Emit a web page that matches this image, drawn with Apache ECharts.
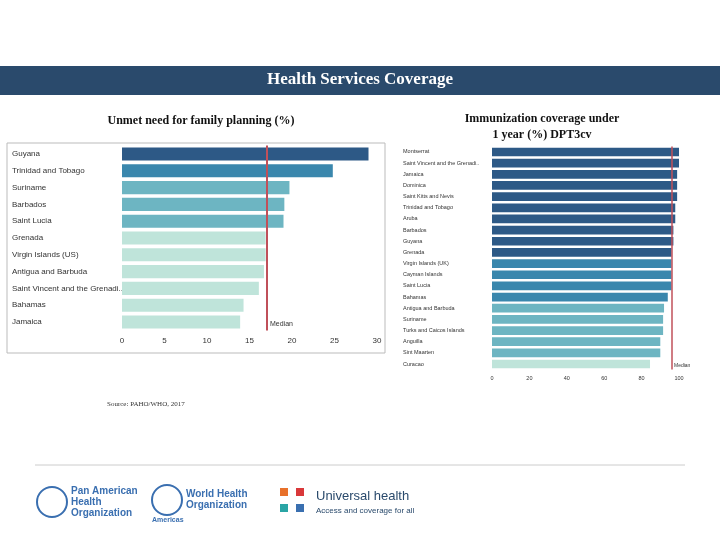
<!DOCTYPE html>
<html><head><meta charset="utf-8">
<script src="https://cdn.jsdelivr.net/npm/echarts@6/dist/echarts.min.js"></script>
<style>html,body{margin:0;padding:0;background:#fff}#c{width:720px;height:540px}</style>
</head><body><div id="c"></div>
<script>
const fpCountries=["Guyana","Trinidad and Tobago","Suriname","Barbados","Saint Lucia","Grenada","Virgin Islands (US)","Antigua and Barbuda","Saint Vincent and the Grenadi..","Bahamas","Jamaica"];
const fpValues=[29.0,24.8,19.7,19.1,19.0,16.9,16.9,16.7,16.1,14.3,13.9];
const fpTiers=[0,1,2,2,2,3,3,3,3,3,3];
const fpMedian=17.0;
const imCountries=["Montserrat","Saint Vincent and the Grenadi..","Jamaica","Dominica","Saint Kitts and Nevis","Trinidad and Tobago","Aruba","Barbados","Guyana","Grenada","Virgin Islands (UK)","Cayman Islands","Saint Lucia","Bahamas","Antigua and Barbuda","Suriname","Turks and Caicos Islands","Anguilla","Sint Maarten","Curacao"];
const imValues=[100,100,99,99,99,98,98,97,97,96,96,96,96,94,92,91.5,91.5,90,90,84.5];
const imTiers=[0,0,0,0,0,0,0,0,0,0,1,1,1,1,2,2,2,2,2,3];
const imMedian=96;
const tierColors=["#2d5986","#3a87ad","#6db5c2","#bfe4da"];
const fpTicks=[0,5,10,15,20,25,30];
const imTicks=[0,20,40,60,80,100];

const chart=echarts.init(document.getElementById('c'));
const sans='Liberation Sans', serif='Liberation Serif';
function xa(idx,max,interval,fs){return {gridIndex:idx,type:'value',min:0,max:max,interval:interval,
  axisLine:{show:false},axisTick:{show:false},splitLine:{show:false},
  axisLabel:{fontFamily:sans,fontSize:fs,color:'#333',margin:6}};}
function ya(idx,cats,margin,fs){return {gridIndex:idx,type:'category',data:cats,inverse:true,
  axisLine:{show:false},axisTick:{show:false},
  axisLabel:{align:'left',margin:margin,fontFamily:sans,fontSize:fs,color:'#333'}};}
chart.setOption({
  animation:false,
  graphic:[
    {type:'rect',shape:{x:0,y:66,width:720,height:29},style:{fill:'#2a4a6c'}},
    {type:'text',x:360,y:80,style:{text:'Health Services Coverage',fill:'#fff',font:'bold 17px "Liberation Serif"',align:'center',verticalAlign:'middle'}},
    {type:'text',x:201,y:121,style:{text:'Unmet need for family planning (%)',fill:'#111',font:'bold 12px "Liberation Serif"',align:'center',verticalAlign:'middle'}},
    {type:'text',x:542,y:127,style:{text:'Immunization coverage under\n1 year (%) DPT3cv',fill:'#111',font:'bold 12px "Liberation Serif"',align:'center',verticalAlign:'middle',lineHeight:16}},
    {type:'rect',shape:{x:7,y:143,width:378,height:210},style:{fill:'none',stroke:'#bbb',lineWidth:1}},
    {type:'text',x:270,y:324,style:{text:'Median',fill:'#333',font:'7px "Liberation Sans"',verticalAlign:'middle'}},
    {type:'text',x:674,y:366,style:{text:'Median',fill:'#333',font:'5px "Liberation Sans"',verticalAlign:'middle'}},
    {type:'text',x:107,y:404,style:{text:'Source: PAHO/WHO, 2017',fill:'#333',font:'7px "Liberation Serif"',verticalAlign:'middle'}},
    {type:'line',shape:{x1:35,y1:465,x2:685,y2:465},style:{stroke:'#ccc',lineWidth:1}},
    {type:'circle',shape:{cx:52,cy:502,r:15},style:{fill:'none',stroke:'#3a6fb0',lineWidth:2}},
    {type:'text',x:71,y:502,style:{text:'Pan American\nHealth\nOrganization',fill:'#3a6fb0',font:'bold 10px "Liberation Sans"',verticalAlign:'middle',lineHeight:11}},
    {type:'circle',shape:{cx:167,cy:500,r:15},style:{fill:'none',stroke:'#3a6fb0',lineWidth:2}},
    {type:'text',x:186,y:500,style:{text:'World Health\nOrganization',fill:'#3a6fb0',font:'bold 10px "Liberation Sans"',verticalAlign:'middle',lineHeight:11}},
    {type:'text',x:152,y:520,style:{text:'Americas',fill:'#3a6fb0',font:'bold 7px "Liberation Sans"',verticalAlign:'middle'}},
    {type:'text',x:316,y:496,style:{text:'Universal health',fill:'#2a4a6c',font:'13px "Liberation Sans"',verticalAlign:'middle'}},
    {type:'text',x:316,y:511,style:{text:'Access and coverage for all',fill:'#2a4a6c',font:'8px "Liberation Sans"',verticalAlign:'middle'}},
    {type:'rect',shape:{x:280,y:488,width:8,height:8},style:{fill:'#e8712b'}},
    {type:'rect',shape:{x:296,y:488,width:8,height:8},style:{fill:'#d9383a'}},
    {type:'rect',shape:{x:280,y:504,width:8,height:8},style:{fill:'#2aa5a5'}},
    {type:'rect',shape:{x:296,y:504,width:8,height:8},style:{fill:'#3a6fb0'}}
  ],
  grid:[
    {left:122,top:145.6,width:255,height:184.8},
    {left:492,top:146.4,width:187,height:223.2}
  ],
  xAxis:[xa(0,30,5,8),xa(1,100,20,5.5)],
  yAxis:[ya(0,fpCountries,110,8),ya(1,imCountries,89,5.5)],
  series:[
    {type:'bar',xAxisIndex:0,yAxisIndex:0,barCategoryGap:'22%',
     data:fpValues.map((v,i)=>({value:v,itemStyle:{color:tierColors[fpTiers[i]]}})),
     markLine:{symbol:'none',silent:true,label:{show:false},lineStyle:{color:'#c0505a',width:2,type:'solid'},data:[{xAxis:fpMedian}]}},
    {type:'bar',xAxisIndex:1,yAxisIndex:1,barCategoryGap:'22%',
     data:imValues.map((v,i)=>({value:v,itemStyle:{color:tierColors[imTiers[i]]}})),
     markLine:{symbol:'none',silent:true,label:{show:false},lineStyle:{color:'#c0505a',width:1.5,type:'solid'},data:[{xAxis:imMedian}]}}
  ]
});
</script></body></html>
